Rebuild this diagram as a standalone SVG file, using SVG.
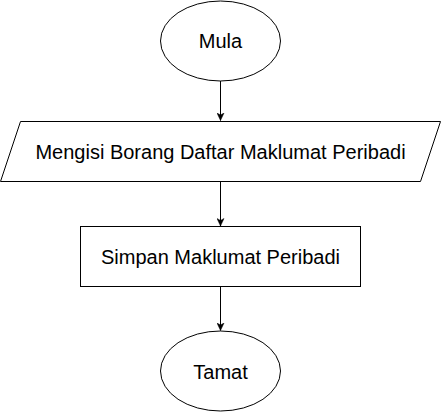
<svg xmlns="http://www.w3.org/2000/svg" width="442" height="412" viewBox="0 0 442 412">
  <style>
    .shape { fill: #ffffff; stroke: #000000; stroke-width: 1; }
    .label { font-family: "Liberation Sans", Arial, sans-serif; font-size: 20px; fill: #000000; text-anchor: middle; }
    .edge { fill: none; stroke: #000000; stroke-width: 1; }
  </style>
  <defs>
    <marker id="arrow" markerWidth="8" markerHeight="8" refX="8" refY="4" orient="auto" markerUnits="userSpaceOnUse" viewBox="0 0 8 8">
      <path d="M0.5,0.5 L8,4 L0.5,7.5 L2.5,4 Z" fill="#000000" stroke="#000000" stroke-width="0.5"/>
    </marker>
  </defs>
  <rect width="442" height="412" fill="#ffffff"/>
  <g id="connectors">
    <line class="edge" x1="220.5" y1="81" x2="220.5" y2="120.5" marker-end="url(#arrow)"/>
    <line class="edge" x1="220.5" y1="181.5" x2="220.5" y2="226" marker-end="url(#arrow)"/>
    <line class="edge" x1="220.5" y1="286.5" x2="220.5" y2="330.5" marker-end="url(#arrow)"/>
  </g>
  <g id="mula">
    <ellipse class="shape" cx="220.5" cy="41" rx="60" ry="40"/>
    <text class="label" x="220.5" y="47.5">Mula</text>
  </g>
  <g id="mengisi">
    <polygon class="shape" points="20.5,121.5 440.5,121.5 420.5,181.5 0.5,181.5"/>
    <text class="label" x="220.5" y="158.5">Mengisi Borang Daftar Maklumat Peribadi</text>
  </g>
  <g id="simpan">
    <rect class="shape" x="80.5" y="226.5" width="280" height="60"/>
    <text class="label" x="220.5" y="263.5">Simpan Maklumat Peribadi</text>
  </g>
  <g id="tamat">
    <ellipse class="shape" cx="220.5" cy="371" rx="60" ry="40"/>
    <text class="label" x="220.5" y="378.5">Tamat</text>
  </g>
</svg>
